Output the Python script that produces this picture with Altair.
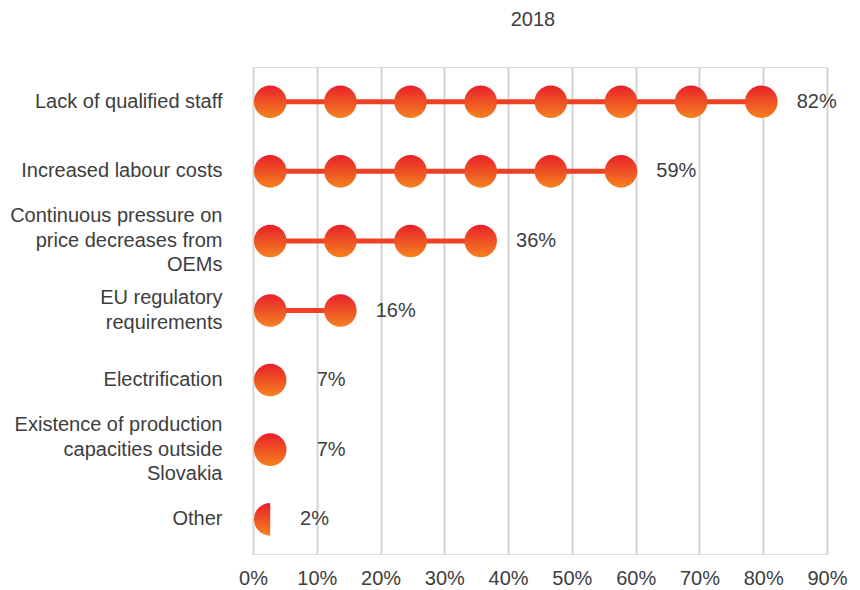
import altair as alt
import pandas as pd
import math

# ---- data ----
categories = [
    "Lack of qualified staff",
    "Increased labour costs",
    "Continuous pressure on|price decreases from|OEMs",
    "EU regulatory|requirements",
    "Electrification",
    "Existence of production|capacities outside|Slovakia",
    "Other",
]
values = [82, 59, 36, 16, 7, 7, 2]
tick_values = [0, 10, 20, 30, 40, 50, 60, 70, 80, 90]
title_text = "2018"

# symbol repeat layout (in axis units)
SYMBOL_START = 2.7
SYMBOL_STEP = 11.0
SYMBOL_HALF = 2.56
MIN_LABEL_POS = 4.4

circle_rows, line_rows, half_rows, label_rows = [], [], [], []
for cat, v in zip(categories, values):
    extent = MIN_LABEL_POS
    if v >= SYMBOL_START:
        n = int((v - SYMBOL_START) // SYMBOL_STEP) + 1
        centers = [SYMBOL_START + SYMBOL_STEP * k for k in range(n)]
        for c in centers:
            circle_rows.append({"cat": cat, "x": c})
        line_rows.append({"cat": cat, "x": centers[0], "x2": centers[-1]})
        if n > 1:
            extent = centers[-1] + SYMBOL_HALF
    else:
        half_rows.append({"cat": cat, "x": SYMBOL_START})
    label_rows.append({"cat": cat, "x": max(v, extent), "label": f"{v}%"})

circles = pd.DataFrame(circle_rows)
lines = pd.DataFrame(line_rows)
halves = pd.DataFrame(half_rows)
labels = pd.DataFrame(label_rows)

FONT = "Liberation Sans"
FS = 20
LH = 24.5
TXT = "#3d3d3d"
grad = alt.Gradient(
    gradient="linear",
    stops=[alt.GradientStop(color="#e8202a", offset=0),
           alt.GradientStop(color="#f5821f", offset=1)],
    x1=0, x2=0, y1=0, y2=1,
)

nlines = "length(split(datum.label, '|'))"
xscale = alt.Scale(domain=[0, 90], nice=False, zero=True)
yenc = alt.Y(
    "cat:N",
    sort=categories,
    scale=alt.Scale(domain=categories),
    axis=alt.Axis(
        title=None, domain=False, ticks=False, tickSize=0, grid=False,
        labelExpr="split(datum.label, '|')",
        labelFont=FONT, labelFontSize=FS, labelColor=TXT,
        labelPadding=31, labelLineHeight=LH, labelAlign="right",
        labelBaseline="middle", labelLimit=400,
        labelOffset={
            "condition": [
                {"test": f"{nlines} == 3", "value": -LH},
                {"test": f"{nlines} == 2", "value": -LH / 2},
            ],
            "value": 0,
        },
    ),
)
xenc_axis = alt.Axis(
    title=None, values=tick_values, labelExpr="datum.value + '%'",
    domain=False, ticks=False, tickSize=0, grid=True, labelFlush=False,
    gridColor="#d3d3d3", gridWidth=2,
    labelFont=FONT, labelFontSize=FS, labelColor=TXT, labelPadding=14,
)

rule = alt.Chart(lines).mark_rule(color="#ee4123", strokeWidth=5).encode(
    x=alt.X("x:Q", scale=xscale, axis=xenc_axis),
    x2="x2:Q",
    y=yenc,
)

pts = alt.Chart(circles).mark_point(
    shape="circle", filled=True, size=1060, fill=grad, opacity=1, strokeWidth=0
).encode(
    x=alt.X("x:Q", scale=xscale),
    y=alt.Y("cat:N", sort=categories),
)

half = alt.Chart(halves).mark_arc(
    radius=16.3, theta=math.pi, theta2=2 * math.pi, fill=grad, strokeWidth=0
).encode(
    x=alt.X("x:Q", scale=xscale),
    y=alt.Y("cat:N", sort=categories),
)

txt = alt.Chart(labels).mark_text(
    align="left", baseline="middle", dx=19, font=FONT, fontSize=FS, color=TXT
).encode(
    x=alt.X("x:Q", scale=xscale),
    y=alt.Y("cat:N", sort=categories),
    text="label:N",
)

chart = (
    alt.layer(rule, pts, half, txt)
    .properties(
        width=574,
        height=487,
        title=alt.TitleParams(
            text=title_text, anchor="middle", font=FONT, fontSize=FS,
            fontWeight="normal", color=TXT, offset=37, dx=-7,
        ),
        autosize=alt.AutoSizeParams(type="none"),
        padding={"left": 245, "top": 59, "right": 25, "bottom": 35},
    )
    .configure_view(stroke="transparent")
    .configure(background="white")
)

chart.save("out.html", embed_options={"renderer": "svg", "actions": False})
